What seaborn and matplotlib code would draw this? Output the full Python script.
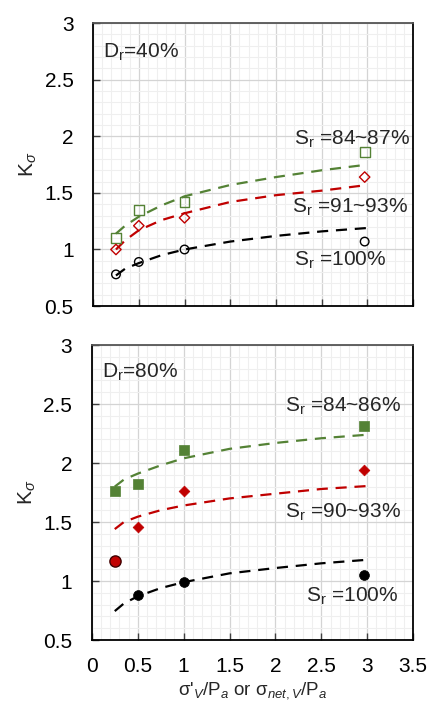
import numpy as np
import pandas as pd
import matplotlib
matplotlib.use('Agg')
import matplotlib.pyplot as plt
from matplotlib.ticker import MultipleLocator
import seaborn as sns

sns.set_style("white")
plt.rcParams['font.family'] = ['Liberation Sans', 'DejaVu Sans']
plt.rcParams['mathtext.fontset'] = 'custom'
plt.rcParams['mathtext.rm'] = 'Liberation Sans'
plt.rcParams['mathtext.it'] = 'Liberation Sans:italic'
plt.rcParams['mathtext.bf'] = 'Liberation Sans:bold'

GREEN = '#548235'
RED = '#c00000'
BLACK = '#000000'

# measured points (x = normalised vertical stress)
x_pts = [0.25, 0.5, 1.0, 2.97]
top_green = [1.10, 1.35, 1.42, 1.86]
top_red = [1.00, 1.21, 1.28, 1.64]
top_black = [0.78, 0.89, 1.00, 1.07]

bot_green = [1.76, 1.82, 2.11, 2.31]
bot_red_x = [0.5, 1.0, 2.97]
bot_red = [1.46, 1.76, 1.94]
bot_red_circle_x = [0.25]
bot_red_circle = [1.17]
bot_black_x = [0.5, 1.0, 2.97]
bot_black = [0.88, 0.99, 1.05]

# trend lines
x_fit = [0.25, 0.35, 0.5, 0.75, 1.0, 1.5, 2.0, 2.5, 3.0]
top_green_fit = [1.14, 1.21, 1.29, 1.39, 1.47, 1.57, 1.64, 1.70, 1.75]
top_red_fit = [1.00, 1.08, 1.17, 1.26, 1.32, 1.42, 1.48, 1.52, 1.57]
top_black_fit = [0.77, 0.83, 0.88, 0.95, 1.00, 1.07, 1.12, 1.16, 1.19]
bot_green_fit = [1.80, 1.86, 1.91, 1.98, 2.04, 2.12, 2.17, 2.21, 2.24]
bot_red_fit = [1.44, 1.50, 1.545, 1.60, 1.64, 1.70, 1.74, 1.78, 1.805]
bot_black_fit = [0.745, 0.81, 0.87, 0.94, 0.99, 1.065, 1.11, 1.15, 1.18]

FS = 15

fig = plt.figure(figsize=(4.29, 7.02), dpi=100)
ax1 = fig.add_axes([0.217, 0.564, 0.746, 0.403])
ax2 = fig.add_axes([0.214, 0.0883, 0.749, 0.4202])


def style_axis(ax, show_xlabels):
    ax.set_xlim(0, 3.5)
    ax.set_ylim(0.5, 3)
    ax.xaxis.set_major_locator(MultipleLocator(0.5))
    ax.yaxis.set_major_locator(MultipleLocator(0.5))
    ax.xaxis.set_minor_locator(MultipleLocator(0.1))
    ax.yaxis.set_minor_locator(MultipleLocator(0.1))
    ax.grid(which='major', color='#d4d4d4', linewidth=0.9)
    ax.grid(which='minor', color='#efefef', linewidth=0.8)
    ax.set_axisbelow(True)
    ax.tick_params(which='major', direction='in', length=5, width=1,
                   labelsize=FS, colors='#404040', labelcolor='black',
                   bottom=True, left=True)
    ax.tick_params(axis='y', which='major', pad=14)
    ax.tick_params(axis='x', which='major', pad=12)
    ax.tick_params(which='minor', length=0)
    for s in ax.spines.values():
        s.set_visible(True)
        s.set_color('black')
        s.set_linewidth(1.3)
    ax.spines['top'].set_color('#555555')
    ax.yaxis.set_major_formatter(matplotlib.ticker.FuncFormatter(lambda v, p: f'{v:g}'))
    ax.xaxis.set_major_formatter(matplotlib.ticker.FuncFormatter(lambda v, p: f'{v:g}'))
    if not show_xlabels:
        ax.set_xticklabels([])
    ax.set_ylabel(r'K$_\sigma$', fontsize=FS, labelpad=4)


def dashed(ax, y, color):
    sns.lineplot(x=x_fit, y=y, ax=ax, color=color, linestyle=(0, (5, 3.5)),
                 linewidth=1.6, zorder=2)


# top panel: Dr = 40 %
style_axis(ax1, False)
dashed(ax1, top_green_fit, GREEN)
dashed(ax1, top_red_fit, RED)
dashed(ax1, top_black_fit, BLACK)
sns.scatterplot(x=x_pts, y=top_green, ax=ax1, marker='s', s=50,
                facecolor='none', edgecolor=GREEN, linewidth=1.0, zorder=3)
sns.scatterplot(x=x_pts, y=top_red, ax=ax1, marker='D', s=28,
                facecolor='none', edgecolor=RED, linewidth=1.0, zorder=3)
sns.scatterplot(x=x_pts, y=top_black, ax=ax1, marker='o', s=38,
                facecolor='none', edgecolor=BLACK, linewidth=1.0, zorder=3)
ax1.text(0.11, 2.74, r'D$_\mathrm{r}$=40%', fontsize=FS, va='center', ha='left')
ax1.text(2.2, 1.97, r'S$_\mathrm{r}$ =84~87%', fontsize=FS, va='center', ha='left')
ax1.text(2.18, 1.37, r'S$_\mathrm{r}$ =91~93%', fontsize=FS, va='center', ha='left')
ax1.text(2.2, 0.90, r'S$_\mathrm{r}$ =100%', fontsize=FS, va='center', ha='left')

# bottom panel: Dr = 80 %
style_axis(ax2, True)
dashed(ax2, bot_green_fit, GREEN)
dashed(ax2, bot_red_fit, RED)
dashed(ax2, bot_black_fit, BLACK)
sns.scatterplot(x=x_pts, y=bot_green, ax=ax2, marker='s', s=55,
                color=GREEN, edgecolor=GREEN, linewidth=0.5, zorder=3)
sns.scatterplot(x=bot_red_x, y=bot_red, ax=ax2, marker='D', s=30,
                color=RED, edgecolor=RED, linewidth=0.5, zorder=3)
sns.scatterplot(x=bot_red_circle_x, y=bot_red_circle, ax=ax2, marker='o', s=65,
                color=RED, edgecolor='#400000', linewidth=1.0, zorder=3)
sns.scatterplot(x=bot_black_x, y=bot_black, ax=ax2, marker='o', s=50,
                color=BLACK, edgecolor=BLACK, linewidth=0.5, zorder=3)
ax2.text(0.11, 2.77, r'D$_\mathrm{r}$=80%', fontsize=FS, va='center', ha='left')
ax2.text(2.10, 2.48, r'S$_\mathrm{r}$ =84~86%', fontsize=FS, va='center', ha='left')
ax2.text(2.10, 1.58, r'S$_\mathrm{r}$ =90~93%', fontsize=FS, va='center', ha='left')
ax2.text(2.33, 0.87, r'S$_\mathrm{r}$ =100%', fontsize=FS, va='center', ha='left')
ax2.set_xlabel(r"σ'$_{V}$/P$_{a}$ or σ$_{net,V}$/P$_{a}$", fontsize=13.5, labelpad=3)

fig.savefig('out.png', dpi=100)
plt.close()
